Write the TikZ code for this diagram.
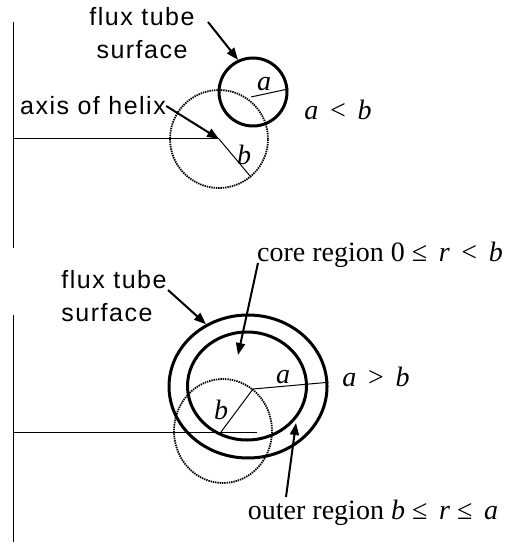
\documentclass[tikz,border=0pt]{standalone}
\usepackage{fontspec}
\setmainfont{Liberation Serif}
\setsansfont{Liberation Sans}
\usetikzlibrary{shapes.geometric, arrows.meta, positioning, calc}

\begin{document}
\begin{tikzpicture}[
    x=0.5pt, y=-0.5pt,
    lbl/.style={font=\sffamily\fontsize{12.5}{16.5}\selectfont\addfontfeatures{LetterSpace=6}, inner sep=0pt},
    mth/.style={font=\fontsize{14}{16}\selectfont, inner sep=0pt},
    tube/.style={draw, ellipse, line width=1.5pt, inner sep=0pt},
    helix/.style={draw, ellipse, line width=0.9pt, dash pattern=on 0.7pt off 0.45pt, inner sep=0pt},
    pointer/.style={-{Triangle[length=6pt, width=4.5pt]}, line width=1pt},
    thinline/.style={line width=0.5pt},
]
\useasboundingbox (0,0) rectangle (504,544);

% upper case: a < b
\coordinate (axisT) at (219,139);
\node[helix, minimum width=49pt, minimum height=49pt] (helixT) at (axisT) {};
\node[tube, minimum width=34pt, minimum height=34pt] (tubeT) at (253,92) {};
\draw[thinline] (13,22) -- (13,248);
\draw[thinline] (13,139) -- (axisT);
\draw[thinline] ($(tubeT.center)+(-2,5)$) -- (tubeT.5);
\draw[thinline] (axisT) -- (helixT.-50);
\node[mth] (aT) at (264,84) {\textit{a}};
\node[mth] (bT) at (244,155) {\textit{b}};
\node[mth] (relT) at (338,110) {\textit{a}\, <\, \textit{b}};
\node[lbl, align=center] (fluxT) at (142,33) {flux tube\\surface};
\coordinate (fluxTtail) at (208,22);
\draw[pointer] (fluxTtail) -- (tubeT.115);
\node[lbl] (axisTxtT) at (93,106) {axis of helix};
\draw[pointer] (axisTxtT.east) -- (axisT);

% lower case: a > b
\coordinate (axisB) at (221,432);
\coordinate (centerB) at (253,389);
\node[helix, minimum width=49pt, minimum height=52pt] (helixB) at (223,431) {};
\node[tube, minimum width=79pt, minimum height=71.5pt] (tubeOutB) at (248,386.5) {};
\node[tube, minimum width=59.5pt, minimum height=54pt] (tubeInB) at (247,386) {};
\draw[thinline] (13,315) -- (13,542);
\draw[thinline] (13,432) -- (257,432);
\draw[thinline] (centerB) -- (tubeOutB.3);
\draw[thinline] (centerB) -- (axisB);
\node[mth] (aB) at (283,377) {\textit{a}};
\node[mth] (bB) at (221,410) {\textit{b}};
\node[mth] (relB) at (376,377) {\textit{a}\, >\, \textit{b}};
\node[lbl, align=left] (fluxB) at (114,296) {flux tube\\surface};
\coordinate (fluxBtail) at (168,290);
\draw[pointer] (fluxBtail) -- (tubeOutB.124);
\node[mth] (coreTxt) at (380,255) {core region 0 ≤\, \textit{r}\, <\, \textit{b}};
\coordinate (coreTail) at (258,263);
\coordinate (coreRegion) at (238,355);
\draw[pointer] (coreTail) -- (coreRegion);
\node[mth] (outerTxt) at (373,513) {outer region \textit{b} ≤\, \textit{r} ≤\, \textit{a}};
\coordinate (outerTail) at (286,497);
\coordinate (outerRegion) at (296,423);
\draw[pointer] (outerTail) -- (outerRegion);
\end{tikzpicture}
\end{document}
